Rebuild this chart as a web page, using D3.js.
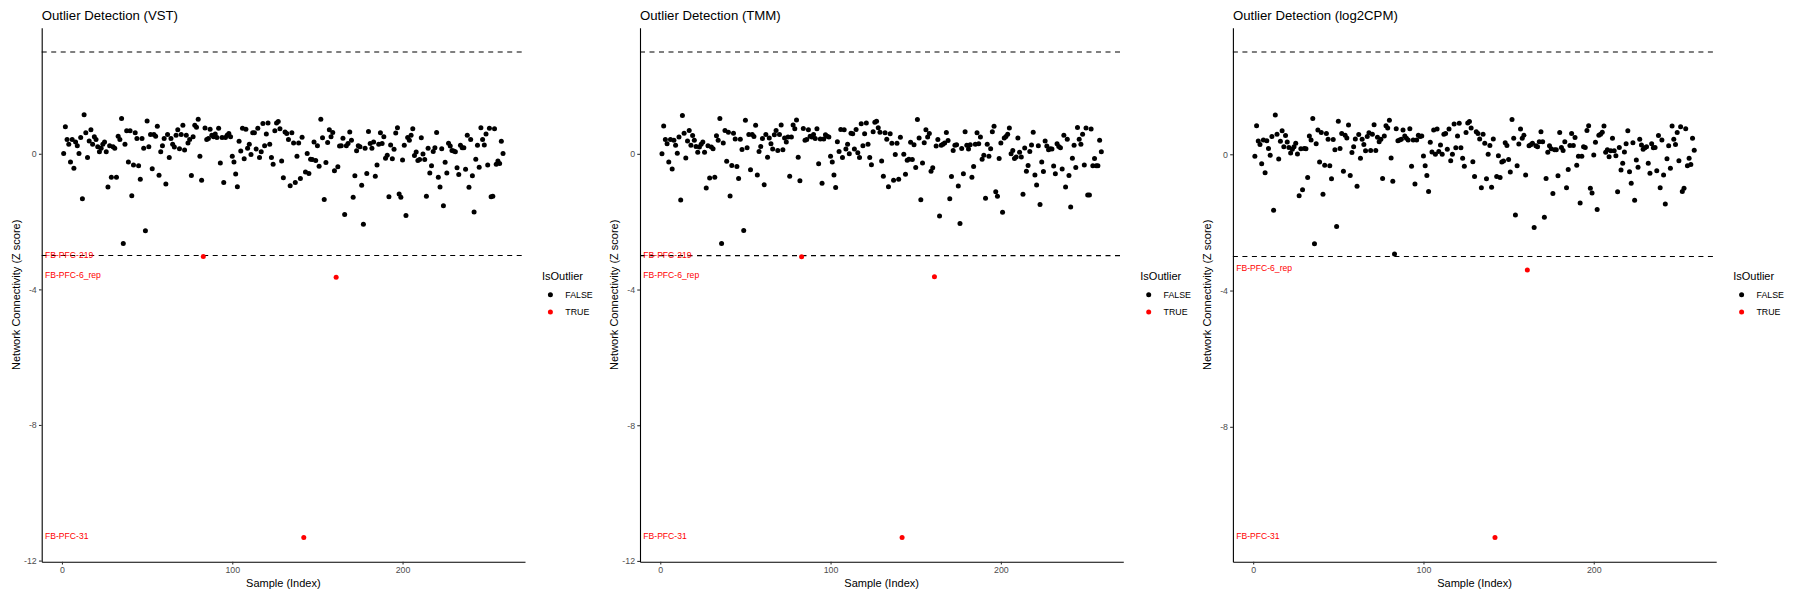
<!DOCTYPE html>
<html>
<head>
<meta charset="utf-8">
<script src="https://cdn.jsdelivr.net/npm/d3@7"></script>
<style>
  body { margin: 0; background: #fff; }
  svg { font-family: "Liberation Sans", Arial, sans-serif; display: block; }
</style>
</head>
<body>
<div id="chart"></div>
<script>
// z scores of network connectivity, sample index 1..259
const vstZ = [
  0.01, 0.80, 0.42, 0.28, -0.24, 0.42, -0.43, 0.35, 0.24, 0.01,
  0.48, -1.33, 1.15, 0.62, -0.11, 0.38, 0.71, 0.28, 0.50, 0.42,
  0.21, 0.06, 0.16, 0.28, 0.35, 0.06, -0.98, 0.24, -0.69, 0.21,
  0.16, -0.69, 0.52, 0.42, 1.04, -2.65, 0.28, 0.68, -0.24, 0.68,
  -1.24, -0.33, 0.62, 0.45, -0.35, -0.75, 0.45, 0.16, -2.27, 0.97,
  0.21, 0.57, -0.44, 0.57, 0.52, 0.81, -0.63, 0.06, 0.24, 0.45,
  -0.89, 0.57, -0.11, 0.45, 0.28, 0.20, 0.55, 0.71, 0.15, 0.57,
  0.84, 0.11, 0.55, 0.32, 0.42, -0.64, 0.50, 0.84, 0.78, 1.02,
  -0.07, -0.78, -3.03, 0.76, 0.42, 0.45, 0.72, 0.55, 0.50, 0.58,
  0.48, 0.75, -0.27, 0.48, -0.85, 0.48, 0.55, 0.60, 0.50, -0.07,
  -0.24, -0.60, -0.97, 0.37, 0.08, 0.75, -0.15, 0.72, 0.16, 0.28,
  -0.02, 0.62, 0.62, 0.14, 0.75, -0.11, 0.06, 0.89, 0.24, 0.58,
  0.91, 0.28, -0.11, -0.31, 0.68, 0.91, 0.95, 0.74, -0.21, -0.71,
  0.64, 0.60, 0.42, -0.94, 0.62, 0.32, -0.85, -0.07, 0.32, -0.73,
  0.49, -11.32, -0.54, 0.01, -0.58, -0.16, -0.17, 0.35, -0.20, 0.24,
  -0.37, 1.02, 0.47, -1.35, -0.26, 0.33, 0.71, 0.50, 0.63, -0.50,
  -3.64, -0.38, 0.23, 0.24, 0.46, -1.79, 0.24, 0.30, 0.64, 0.40,
  -1.28, -0.65, 0.09, 0.24, 0.21, -0.93, -2.08, 0.16, -0.58, 0.66,
  0.30, 0.16, 0.35, -0.66, -0.33, 0.28, 0.62, 0.30, 0.50, -0.13,
  -0.04, -1.27, 0.26, -0.15, 0.13, 0.61, 0.77, -1.19, -1.28, -0.18,
  0.25, -1.82, 0.48, 0.40, 0.55, 0.74, -0.05, 0.05, -0.20, -0.17,
  0.47, -0.01, -0.17, -1.25, 0.16, -0.57, -0.35, 0.07, 0.18, 0.63,
  -0.69, -0.98, 0.15, -1.53, -0.25, -0.57, 0.31, 0.23, 0.10, 0.08,
  0.06, -0.41, -0.61, 0.25, 0.18, 0.18, -0.46, 0.55, -0.99, 0.42,
  -0.65, -1.72, -0.16, 0.25, -0.40, 0.77, 0.42, 0.26, 0.58, -0.33,
  0.75, -1.27, -1.25, 0.74, -0.31, -0.21, -0.29, 0.37, 0.01
];

const tmmZ = [
  0.00, 0.82, 0.42, 0.30, -0.24, 0.42, -0.45, 0.40, 0.25, 0.02,
  0.50, -1.36, 1.13, 0.61, -0.12, 0.38, 0.69, 0.25, 0.54, 0.40,
  0.22, 0.05, 0.20, 0.28, 0.35, 0.05, -1.01, 0.24, -0.71, 0.20,
  0.15, -0.69, 0.53, 0.40, 1.04, -2.64, 0.32, 0.69, -0.22, 0.64,
  -1.24, -0.34, 0.61, 0.44, -0.37, -0.73, 0.43, 0.13, -2.26, 0.99,
  0.18, 0.57, -0.47, 0.57, 0.51, 0.84, -0.62, 0.07, 0.22, 0.45,
  -0.91, 0.57, -0.10, 0.47, 0.30, 0.14, 0.56, 0.69, 0.10, 0.57,
  0.85, 0.12, 0.47, 0.35, 0.50, -0.66, 0.50, 0.85, 0.74, 1.00,
  -0.10, -0.79, -3.03, 0.75, 0.40, 0.42, 0.71, 0.52, 0.50, 0.57,
  0.45, 0.74, -0.29, 0.44, -0.87, 0.44, 0.56, 0.52, 0.50, -0.07,
  -0.24, -0.62, -0.99, 0.36, 0.07, 0.72, -0.11, 0.71, 0.14, 0.28,
  0.00, 0.61, 0.59, 0.14, 0.72, 0.03, -0.11, 0.89, 0.24, 0.59,
  0.91, 0.28, -0.11, -0.32, 0.65, 0.93, 0.96, 0.77, 0.64, -0.21,
  -0.66, 0.62, 0.43, -0.97, 0.59, 0.31, -0.78, -0.02, 0.31, -0.75,
  0.49, -11.31, -0.01, -0.60, -0.19, -0.16, 0.34, -0.17, 0.27, -0.40,
  1.01, 0.47, -1.35, -0.27, 0.33, 0.71, 0.50, 0.60, -0.51, -0.41,
  -3.62, 0.23, 0.42, -1.83, 0.25, 0.28, 0.32, 0.63, 0.39, -1.32,
  -0.67, 0.10, 0.25, 0.27, -0.95, -2.05, 0.16, -0.59, 0.65, 0.25,
  0.14, 0.27, -0.69, -0.37, 0.28, 0.62, 0.30, 0.50, -0.16, -0.04,
  -1.31, 0.28, -0.07, 0.15, 0.65, 0.81, -1.12, -1.25, -0.14, 0.32,
  -1.72, 0.47, 0.51, 0.58, 0.76, 0.00, 0.10, -0.14, -0.09, 0.47,
  0.05, -0.09, -1.19, 0.17, -0.51, -0.34, 0.07, 0.26, 0.64, -0.62,
  -0.92, 0.24, -1.49, -0.24, -0.52, 0.38, 0.23, 0.12, 0.15, 0.14,
  -0.36, -0.59, 0.30, 0.22, 0.18, -0.45, 0.55, -0.98, 0.43, -0.64,
  -1.57, -0.13, 0.25, -0.40, 0.78, 0.43, 0.28, 0.58, -0.33, 0.76,
  -1.21, -1.21, 0.73, -0.35, -0.14, -0.35, -0.35, 0.40, 0.06
];

const log2cpmZ = [
  -0.06, 0.84, 0.39, 0.29, -0.28, 0.42, -0.54, 0.40, 0.17, -0.03,
  0.52, -1.64, 1.15, 0.59, -0.14, 0.38, 0.69, 0.22, 0.55, 0.36,
  0.20, 0.04, 0.15, 0.22, 0.32, 0.01, -1.22, 0.16, -1.04, 0.17,
  0.16, -0.68, 0.54, 0.42, 1.05, -2.63, 0.31, 0.71, -0.23, 0.64,
  -1.17, -0.32, 0.61, 0.44, -0.34, -0.72, 0.43, 0.13, -2.12, 0.97,
  0.17, 0.61, -0.50, 0.56, 0.48, 0.86, -0.62, 0.05, 0.22, 0.45,
  -0.94, 0.58, -0.12, 0.44, 0.29, 0.10, 0.52, 0.63, 0.11, 0.59,
  0.87, 0.11, 0.50, 0.37, 0.44, -0.71, 0.54, 0.84, 0.77, 1.00,
  -0.11, -0.79, -2.93, 0.75, 0.40, 0.42, 0.44, 0.71, 0.54, 0.47,
  0.42, 0.75, -0.35, 0.42, -0.87, 0.42, 0.56, 0.52, 0.54, -0.05,
  -0.34, -0.62, -1.09, 0.35, 0.07, 0.71, 0.00, 0.74, 0.08, 0.27,
  0.00, 0.59, 0.61, 0.15, 0.74, -0.19, 0.00, 0.89, 0.19, 0.54,
  0.91, 0.19, -0.12, -0.35, 0.64, 0.92, 0.96, 0.77, -0.22, -0.65,
  0.66, 0.61, 0.45, -0.98, 0.59, 0.32, -0.72, 0.00, 0.26, -0.97,
  0.45, -11.25, -0.65, -0.04, -0.68, -0.23, -0.20, 0.34, 0.26, -0.15,
  -0.52, 1.02, 0.47, -1.78, -0.34, 0.30, 0.74, 0.47, 0.56, -0.61,
  -3.40, 0.25, 0.28, 0.32, -2.15, 0.25, 0.22, 0.37, 0.66, 0.37,
  -1.85, -0.71, 0.06, 0.25, 0.16, -1.15, 0.13, 0.13, -0.63, 0.64,
  0.20, 0.11, 0.37, -0.98, -0.45, 0.26, 0.61, 0.26, 0.49, -0.32,
  -0.06, -1.43, -0.06, 0.22, 0.20, 0.70, 0.84, -1.00, -1.14, -0.02,
  0.35, -1.62, 0.56, 0.59, 0.65, 0.83, 0.06, 0.13, -0.07, 0.10,
  0.47, 0.10, -0.04, -1.10, 0.20, -0.46, -0.26, 0.07, 0.31, 0.69,
  -0.51, -0.85, 0.34, -1.35, -0.17, -0.38, 0.44, 0.27, 0.15, 0.19,
  0.22, -0.26, -0.56, 0.31, 0.19, 0.20, -0.48, 0.55, -0.98, 0.42,
  -0.61, -1.46, -0.13, 0.25, -0.41, 0.83, 0.44, 0.29, 0.64, -0.19,
  0.81, -1.09, -1.00, 0.75, -0.34, -0.12, -0.30, 0.47, 0.12
];

// names of the samples that can be flagged
const outlierIndex = [83, 142, 161];
const outlierName = ["FB-PFC-219", "FB-PFC-31", "FB-PFC-6_rep"];

const panelTitles = ["Outlier Detection (VST)", "Outlier Detection (TMM)", "Outlier Detection (log2CPM)"];
const panelValues = [vstZ, tmmZ, log2cpmZ];
const threshold = 3;
const yTicks = [0, -4, -8, -12];
const xTicks = [0, 100, 200];
const legendLabels = ["FALSE", "TRUE"];
const legendColors = ["#000000", "#FF0000"];

const width = 1800, height = 600;
const panelLeft = [41.7, 640, 1232.9];
const panelWidth = 483.3;
const plotTop = 27.8, plotBottom = 561.8;

const svg = d3.select("#chart")
  .append("svg")
  .attr("width", width)
  .attr("height", height);

function drawPanel(p) {
  const values = panelValues[p];
  const left = panelLeft[p], right = left + panelWidth;
  const data = values.map((z, i) => ({ index: i + 1, z: z, outlier: Math.abs(z) > threshold }));

  // ggplot style 5% expansion, hlines count in the y range
  const n = data.length;
  const xPad = (n - 1) * 0.05;
  const xScale = d3.scaleLinear().domain([1 - xPad, n + xPad]).range([left, right]);
  const yLo = Math.min(d3.min(values), -threshold);
  const yHi = Math.max(d3.max(values), threshold);
  const yPad = (yHi - yLo) * 0.05;
  const yScale = d3.scaleLinear().domain([yLo - yPad, yHi + yPad]).range([plotBottom, plotTop]);

  const g = svg.append("g").attr("class", "panel");

  // dashed threshold lines
  g.selectAll("line.thr")
    .data([threshold, -threshold])
    .join("line")
    .attr("class", "thr")
    .attr("x1", left).attr("x2", right)
    .attr("y1", d => yScale(d)).attr("y2", d => yScale(d))
    .attr("stroke", "#000")
    .attr("stroke-width", 1.1)
    .attr("stroke-dasharray", "5,4.5");

  g.append("g")
    .selectAll("circle")
    .data(data)
    .join("circle")
    .attr("cx", d => xScale(d.index))
    .attr("cy", d => yScale(d.z))
    .attr("r", 2.5)
    .attr("fill", d => d.outlier ? legendColors[1] : legendColors[0]);

  // labels for flagged samples, pinned to the left edge
  const flagged = data.filter(d => d.outlier);
  g.append("g")
    .selectAll("text")
    .data(flagged)
    .join("text")
    .attr("x", left + 3.3)
    .attr("y", d => yScale(d.z) - 2)
    .attr("dy", "0.35em")
    .attr("font-size", "8.6px")
    .attr("fill", "#FF0000")
    .text(d => outlierName[outlierIndex.indexOf(d.index)]);

  // axes
  const xAxis = d3.axisBottom(xScale).tickValues(xTicks).tickFormat(d => String(d))
    .tickSize(2.75).tickSizeOuter(0).tickPadding(2.2);
  const yAxis = d3.axisLeft(yScale)
    .tickValues(yTicks.filter(t => t >= yScale.domain()[0] && t <= yScale.domain()[1]))
    .tickFormat(d => String(d))
    .tickSize(2.75).tickSizeOuter(0).tickPadding(2.2);

  const gx = g.append("g")
    .attr("transform", `translate(0, ${plotBottom})`)
    .call(xAxis);
  const gy = g.append("g")
    .attr("transform", `translate(${left}, 0)`)
    .call(yAxis);

  [gx, gy].forEach(a => {
    a.select(".domain").attr("stroke", "#000").attr("stroke-width", 1.1);
    a.selectAll(".tick line").attr("stroke", "#333333").attr("stroke-width", 1.1);
    a.selectAll(".tick text")
      .attr("fill", "#4D4D4D")
      .style("font-size", "8.8px")
      .style("font-family", "'Liberation Sans', Arial, sans-serif");
  });

  // titles
  g.append("text")
    .attr("x", left)
    .attr("y", 19.5)
    .attr("font-size", "13.2px")
    .attr("fill", "#000")
    .text(panelTitles[p]);

  g.append("text")
    .attr("x", (left + right) / 2)
    .attr("y", 583.3)
    .attr("dy", "0.35em")
    .attr("text-anchor", "middle")
    .attr("font-size", "11px")
    .attr("fill", "#000")
    .text("Sample (Index)");

  g.append("text")
    .attr("transform", `translate(${left - 26}, ${(plotTop + plotBottom) / 2}) rotate(-90)`)
    .attr("dy", "0.35em")
    .attr("text-anchor", "middle")
    .attr("font-size", "11px")
    .attr("fill", "#000")
    .text("Network Connectivity (Z score)");

  // legend
  const lg = g.append("g").attr("transform", `translate(${right + 17}, 0)`);
  lg.append("text")
    .attr("x", 0)
    .attr("y", 276)
    .attr("dy", "0.35em")
    .attr("font-size", "11px")
    .attr("fill", "#000")
    .text("IsOutlier");

  const keys = lg.selectAll("g.key")
    .data(legendLabels)
    .join("g")
    .attr("class", "key")
    .attr("transform", (d, i) => `translate(0, ${294.7 + i * 17.3})`);
  keys.append("circle")
    .attr("cx", 8.4)
    .attr("cy", 0)
    .attr("r", 2.5)
    .attr("fill", (d, i) => legendColors[i]);
  keys.append("text")
    .attr("x", 23.3)
    .attr("y", 0)
    .attr("dy", "0.35em")
    .attr("font-size", "8.8px")
    .attr("fill", "#000")
    .text(d => d);
}

panelValues.forEach((v, p) => drawPanel(p));
</script>
</body>
</html>
